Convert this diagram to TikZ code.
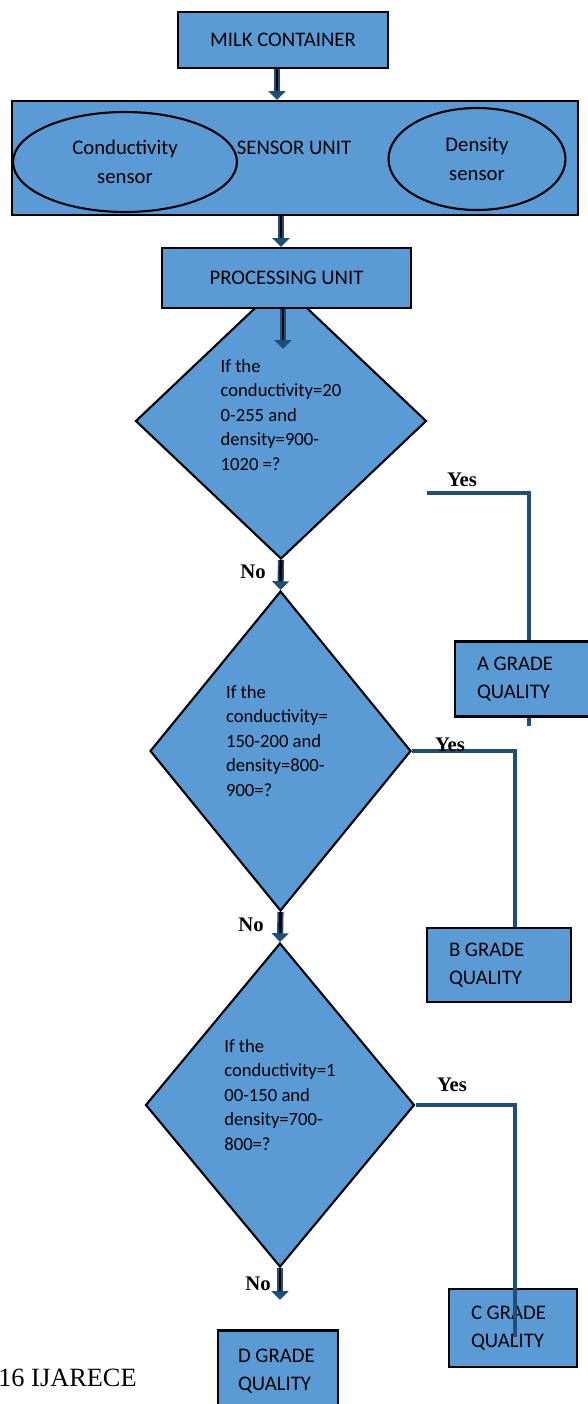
\documentclass[tikz,border=0pt]{standalone}
\usepackage{fontspec}
\setmainfont{Carlito}
\newfontfamily\timesfont{Liberation Serif}
\usetikzlibrary{shapes.geometric,arrows.meta,backgrounds}
\definecolor{boxblue}{HTML}{5B9BD5}
\definecolor{linkblue}{HTML}{1F4E79}
\tikzset{
  unitbox/.style={rectangle, draw=black, line width=1.2pt, fill=boxblue, inner sep=0pt, font=\fontsize{11.8}{16.2}\selectfont},
  sensorell/.style={ellipse, draw=black, line width=1.2pt, fill=boxblue, inner sep=0pt, align=center, font=\fontsize{11.8}{16.2}\selectfont},
  question/.style={diamond, draw=black, line width=1.2pt, fill=boxblue, inner sep=0pt},
  qtext/.style={inner sep=0pt, align=left, font=\fontsize{10.6}{13.9}\selectfont},
  grade/.style={unitbox, align=flush left, inner xsep=0.44cm},
  flow/.style={draw=linkblue, line width=3.5pt, -{Triangle[width=9.5pt,length=5pt]},
    postaction={draw=black, line width=1.6pt, -, shorten >=5pt}},
  link/.style={draw=linkblue, line width=2.2pt},
  answer/.style={inner sep=0pt, font=\timesfont\bfseries\fontsize{11.8}{14}\selectfont}
}
\begin{document}
\begin{tikzpicture}[x=0.02cm, y=-0.02cm]
\useasboundingbox (0,0) rectangle (588,1404);
\node (milk)[unitbox, minimum width=4.2cm, minimum height=1.12cm] at (283,40) {MILK CONTAINER};
\node (sensor)[unitbox, minimum width=11.32cm, minimum height=2.28cm] at (295,158) {};
\node (sensorlbl)[inner sep=0pt, font=\fontsize{11.8}{16.2}\selectfont] at (294,148) {SENSOR UNIT};
\node (cond)[sensorell, minimum width=4.48cm, minimum height=2cm] at (125,162) {Conductivity\\sensor};
\node (dens)[sensorell, minimum width=3.54cm, minimum height=2.04cm] at (477,159) {Density\\sensor};
\node (d1)[question, minimum width=5.82cm, minimum height=5.52cm] at (281,421) {};
\node (proc)[unitbox, minimum width=4.98cm, minimum height=1.2cm] at (286.5,278) {PROCESSING UNIT};
\node (q1)[qtext] at ([yshift=0.12cm]d1.center) {If the\\conductivity=20\\0-255 and\\density=900-\\1020 =?};
\node (d2)[question, minimum width=5.22cm, minimum height=6.4cm] at (280.5,751) {};
\node (q2)[qtext] at ([xshift=-0.07cm,yshift=0.2cm]d2.center) {If the\\conductivity=\\150-200 and\\density=800-\\900=?};
\node (d3)[question, minimum width=5.38cm, minimum height=6.48cm] at (280,1105) {};
\node (q3)[qtext] at ([yshift=0.2cm]d3.center) {If the\\conductivity=1\\00-150 and\\density=700-\\800=?};
\node (agrade)[grade, minimum width=2.96cm, minimum height=1.5cm, text width=2.08cm] at (529,679) {A GRADE\\QUALITY};
\node (bgrade)[grade, minimum width=2.88cm, minimum height=1.48cm, text width=2cm] at (499,965) {B GRADE\\QUALITY};
\node (cgrade)[grade, minimum width=2.56cm, minimum height=1.56cm, text width=1.68cm] at (513,1328) {C GRADE\\QUALITY};
\node (dgrade)[grade, inner xsep=0.4cm, minimum width=2.4cm, minimum height=1.62cm, text width=1.6cm] at (278,1371) {D GRADE\\QUALITY};
\coordinate (a3end) at (283,349);
\coordinate (no3end) at (280,1300);
\coordinate (yes1a) at (427,493);
\coordinate (yes2c) at (515,751);
\coordinate (yes3c) at (515,1105);
\coordinate (yes3end) at (515,1337);
\draw[flow] ([xshift=-0.12cm]milk.south) -- ([xshift=-0.12cm]milk.south |- sensor.north);
\draw[flow] (sensor.south -| d1.north) -- (proc.north -| d1.north);
\draw[flow] (proc.south -| a3end) -- (a3end);
\draw[flow] (d1.south) -- (d2.north);
\draw[flow] (d2.south) -- (d3.north);
\draw[flow] (d3.south) -- (no3end);
\begin{scope}[on background layer]
\draw[link] (yes1a) -| ([yshift=-0.16cm]agrade.south);
\end{scope}
\draw[link] (d2.east) -- (yes2c) -- (yes2c |- bgrade.north);
\draw[link] (d3.east) -- (yes3c) -- (yes3end);
\node (yes1)[answer] at (462,480) {Yes};
\node (yes2)[answer] at (450,745) {Yes};
\node (yes3)[answer] at (452,1085) {Yes};
\node (no1)[answer] at (253,572) {No};
\node (no2)[answer] at (251,925) {No};
\node (no3)[answer] at (258,1284) {No};
\node (footer)[inner sep=0pt, anchor=east, font=\timesfont\fontsize{15}{18}\selectfont] at (137,1378) {16 IJARECE};
\end{tikzpicture}
\end{document}
